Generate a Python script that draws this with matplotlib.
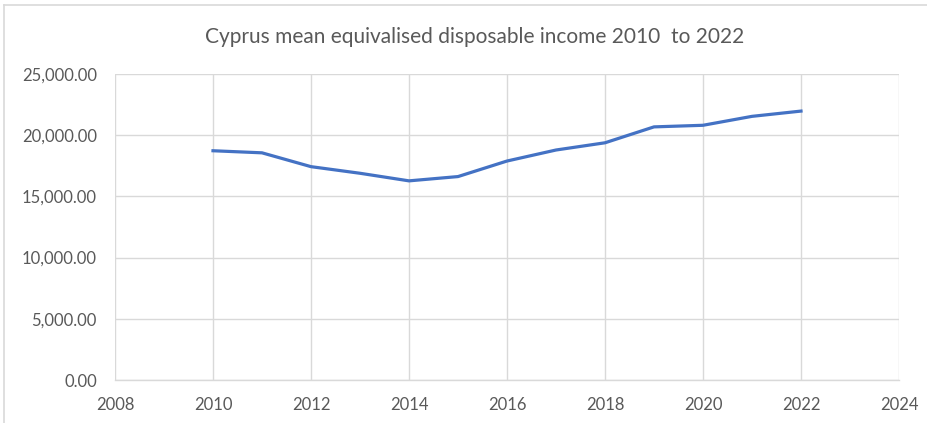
import matplotlib
matplotlib.use("Agg")
import matplotlib.pyplot as plt
from matplotlib.ticker import FuncFormatter, MultipleLocator
from matplotlib.lines import Line2D

years = [2010, 2011, 2012, 2013, 2014, 2015, 2016, 2017, 2018, 2019, 2020, 2021, 2022]
income = [18730, 18560, 17430, 16890, 16270, 16620, 17890, 18790, 19380, 20680, 20810, 21540, 21970]

title = "Cyprus mean equivalised disposable income 2010  to 2022"

plt.rcParams["font.family"] = ["Lato", "DejaVu Sans"]
text_color = "#595959"
grid_color = "#D9D9D9"

fig = plt.figure(figsize=(9.28, 4.23), dpi=100)
W, H = 928, 423
ax = fig.add_axes([115 / W, 1 - 380 / H, (899 - 115) / W, (380 - 74) / H])

ax.plot(years, income, color="#4472C4", linewidth=2.3, solid_joinstyle="round")

ax.set_xlim(2008, 2024)
ax.set_ylim(0, 25000)
ax.xaxis.set_major_locator(MultipleLocator(2))
ax.yaxis.set_major_locator(MultipleLocator(5000))
ax.yaxis.set_major_formatter(FuncFormatter(lambda v, p: f"{v:,.2f}"))

ax.grid(True, color=grid_color, linewidth=1.0)
ax.set_axisbelow(True)
for side in ("top", "right", "left"):
    ax.spines[side].set_visible(False)
ax.spines["bottom"].set_color(grid_color)
ax.spines["bottom"].set_linewidth(1.0)
ax.tick_params(axis="both", length=0, colors=text_color, labelsize=12)
ax.tick_params(axis="x", pad=12)
ax.tick_params(axis="y", pad=13)

fig.text(475 / W, 1 - 37 / H, title, ha="center", va="center",
         fontsize=15, color=text_color)

# chart frame edges
fig.add_artist(Line2D([4 / W, 1], [1 - 5 / H, 1 - 5 / H], transform=fig.transFigure,
                      color=grid_color, linewidth=1.2))
fig.add_artist(Line2D([4 / W, 4 / W], [0, 1 - 5 / H], transform=fig.transFigure,
                      color=grid_color, linewidth=1.2))

fig.savefig("out.png", dpi=100)
